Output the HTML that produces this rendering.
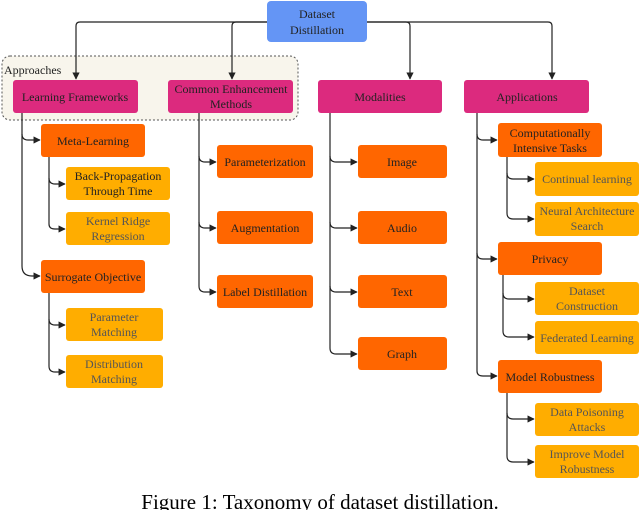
<!DOCTYPE html>
<html><head><meta charset="utf-8"><style>
html,body{margin:0;padding:0;background:#fff;width:640px;height:510px;overflow:hidden}
text{font-family:"Liberation Serif",serif;font-size:12px;fill:#222;text-anchor:middle}
.m{fill:#dc2a7e}.o{fill:#ff6600}.y{fill:#ffad00}
.l{fill:none;stroke:#222;stroke-width:1.2}
</style></head><body>
<svg width="640" height="510" viewBox="0 0 640 510" xmlns="http://www.w3.org/2000/svg">
<defs><marker id="a" viewBox="0 0 10 10" refX="9" refY="5" markerWidth="6" markerHeight="6" orient="auto"><path d="M0,0L10,5L0,10z" fill="#222"/></marker></defs>
<rect x="2" y="56" width="296" height="64" rx="8" fill="#f8f5ec" stroke="#555" stroke-dasharray="2,2"/>
<text x="4" y="74" style="text-anchor:start">Approaches</text>
<rect x="267" y="1" width="100" height="41" rx="4" fill="#6495f5"/>
<text x="317" y="18">Dataset</text><text x="317" y="34">Distillation</text>
<path class="l" d="M267,22H80Q76,22 76,26V79" marker-end="url(#a)"/>
<path class="l" d="M267,22H236Q232,22 232,26V79" marker-end="url(#a)"/>
<path class="l" d="M367,22H406Q410,22 410,26V79" marker-end="url(#a)"/>
<path class="l" d="M367,22H548Q552,22 552,26V79" marker-end="url(#a)"/>
<rect class="m" x="13" y="80" width="125" height="33" rx="3"/><text x="75" y="101">Learning Frameworks</text>
<rect class="m" x="168" y="80" width="125" height="33" rx="3"/><text x="231" y="93">Common Enhancement</text><text x="231" y="108">Methods</text>
<rect class="m" x="318" y="80" width="124" height="33" rx="3"/><text x="380" y="101">Modalities</text>
<rect class="m" x="464" y="80" width="125" height="33" rx="3"/><text x="527" y="101">Applications</text>
<!-- LF -->
<path class="l" d="M22,113V266Q22,276 32,276H40" marker-end="url(#a)"/>
<path class="l" d="M22,134Q22,140 28,140H40" marker-end="url(#a)"/>
<rect class="o" x="41" y="124" width="104" height="33" rx="3"/><text x="93" y="145">Meta-Learning</text>
<path class="l" d="M49,157V224Q49,229 55,229H65" marker-end="url(#a)"/>
<path class="l" d="M49,178Q49,184 55,184H65" marker-end="url(#a)"/>
<rect class="y" x="66" y="167" width="104" height="33" rx="3"/><text x="118" y="180">Back-Propagation</text><text x="118" y="195">Through Time</text>
<rect class="y" x="66" y="212" width="104" height="33" rx="3"/><text x="118" y="225" style="fill:#555">Kernel Ridge</text><text x="118" y="240" style="fill:#555">Regression</text>
<rect class="o" x="41" y="260" width="104" height="33" rx="3"/><text x="93" y="281">Surrogate Objective</text>
<path class="l" d="M49,293V366Q49,372 55,372H65" marker-end="url(#a)"/>
<path class="l" d="M49,319Q49,325 55,325H65" marker-end="url(#a)"/>
<rect class="y" x="66" y="308" width="97" height="33" rx="3"/><text x="114" y="321" style="fill:#555">Parameter</text><text x="114" y="336" style="fill:#555">Matching</text>
<rect class="y" x="66" y="355" width="97" height="33" rx="3"/><text x="114" y="368" style="fill:#555">Distribution</text><text x="114" y="383" style="fill:#555">Matching</text>
<!-- Common -->
<path class="l" d="M199,113V286Q199,292 205,292H216" marker-end="url(#a)"/>
<path class="l" d="M199,156Q199,162 205,162H216" marker-end="url(#a)"/>
<path class="l" d="M199,222Q199,228 205,228H216" marker-end="url(#a)"/>
<rect class="o" x="217" y="145" width="96" height="33" rx="3"/><text x="265" y="166">Parameterization</text>
<rect class="o" x="217" y="211" width="96" height="33" rx="3"/><text x="265" y="232">Augmentation</text>
<rect class="o" x="217" y="275" width="96" height="33" rx="3"/><text x="265" y="296">Label Distillation</text>
<!-- Modalities -->
<path class="l" d="M330,113V348Q330,354 336,354H357" marker-end="url(#a)"/>
<path class="l" d="M330,156Q330,162 336,162H357" marker-end="url(#a)"/>
<path class="l" d="M330,222Q330,228 336,228H357" marker-end="url(#a)"/>
<path class="l" d="M330,286Q330,292 336,292H357" marker-end="url(#a)"/>
<rect class="o" x="358" y="145" width="89" height="33" rx="3"/><text x="402" y="166">Image</text>
<rect class="o" x="358" y="211" width="89" height="33" rx="3"/><text x="402" y="232">Audio</text>
<rect class="o" x="358" y="275" width="89" height="33" rx="3"/><text x="402" y="296">Text</text>
<rect class="o" x="358" y="337" width="89" height="33" rx="3"/><text x="402" y="358">Graph</text>
<!-- Applications -->
<path class="l" d="M477,113V371Q477,376 483,376H497" marker-end="url(#a)"/>
<path class="l" d="M477,134Q477,140 483,140H497" marker-end="url(#a)"/>
<path class="l" d="M477,253Q477,259 483,259H497" marker-end="url(#a)"/>
<rect class="o" x="498" y="123" width="104" height="34" rx="3"/><text x="550" y="137">Computationally</text><text x="550" y="152">Intensive Tasks</text>
<path class="l" d="M507,157V213Q507,219 513,219H534" marker-end="url(#a)"/>
<path class="l" d="M507,173Q507,179 513,179H534" marker-end="url(#a)"/>
<rect class="y" x="535" y="162" width="104" height="34" rx="3"/><text x="587" y="183" style="fill:#555">Continual learning</text>
<rect class="y" x="535" y="202" width="104" height="34" rx="3"/><text x="587" y="215" style="fill:#555">Neural Architecture</text><text x="587" y="230" style="fill:#555">Search</text>
<rect class="o" x="498" y="242" width="104" height="33" rx="3"/><text x="550" y="263">Privacy</text>
<path class="l" d="M503,275V331Q503,337 509,337H534" marker-end="url(#a)"/>
<path class="l" d="M503,293Q503,299 509,299H534" marker-end="url(#a)"/>
<rect class="y" x="535" y="282" width="104" height="33" rx="3"/><text x="587" y="295" style="fill:#555">Dataset</text><text x="587" y="310" style="fill:#555">Construction</text>
<rect class="y" x="535" y="321" width="104" height="33" rx="3"/><text x="587" y="342" style="fill:#555">Federated Learning</text>
<rect class="o" x="498" y="360" width="104" height="33" rx="3"/><text x="550" y="381">Model Robustness</text>
<path class="l" d="M507,393V456Q507,462 513,462H534" marker-end="url(#a)"/>
<path class="l" d="M507,413Q507,419 513,419H534" marker-end="url(#a)"/>
<rect class="y" x="535" y="403" width="104" height="33" rx="3"/><text x="587" y="416" style="fill:#555">Data Poisoning</text><text x="587" y="431" style="fill:#555">Attacks</text>
<rect class="y" x="535" y="445" width="104" height="33" rx="3"/><text x="587" y="458" style="fill:#555">Improve Model</text><text x="587" y="473" style="fill:#555">Robustness</text>
<text x="320" y="509" style="font-size:21px;fill:#000">Figure 1: Taxonomy of dataset distillation.</text>
</svg>
</body></html>
